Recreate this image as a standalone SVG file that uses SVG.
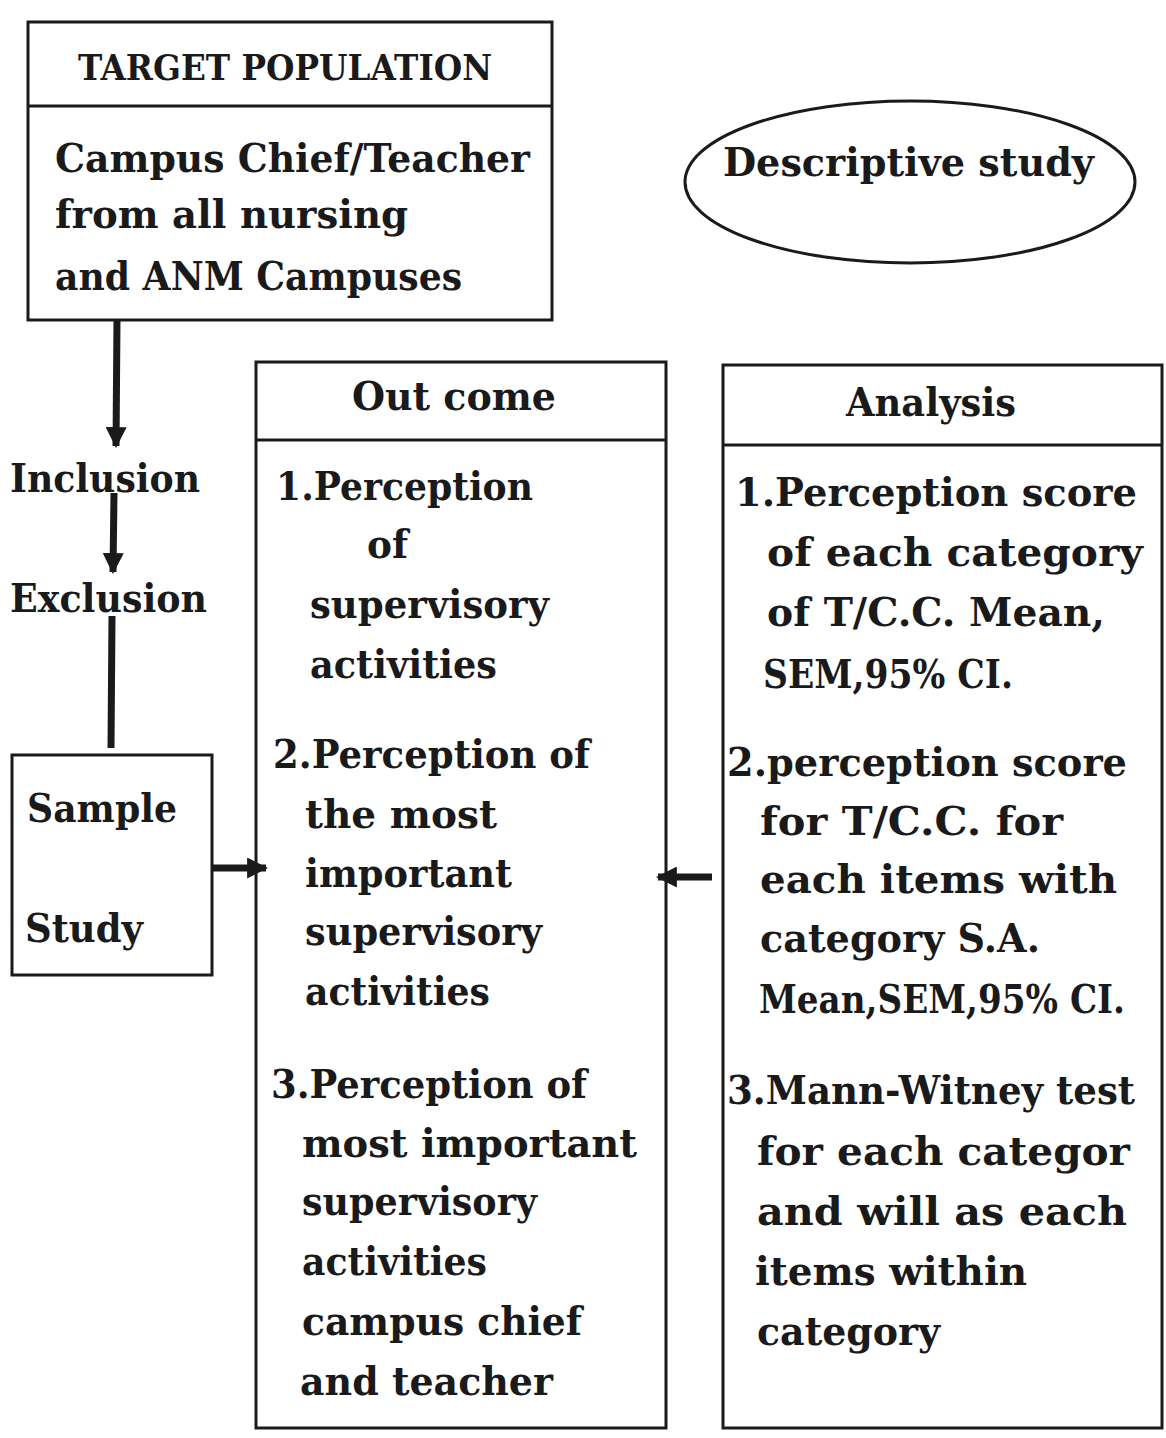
<svg xmlns="http://www.w3.org/2000/svg" width="1166" height="1438" viewBox="0 0 1166 1438">
<defs>
<style>
.box{fill:none;stroke:#1a1a1a;stroke-width:3}
.t{font-family:"DejaVu Serif","Liberation Serif",serif;font-weight:bold;font-size:40px;fill:#1a1a1a}
.h{font-size:36px}
.conn{stroke:#1a1a1a;stroke-width:7;fill:none}
</style>
<marker id="ah" viewBox="0 0 10 10" refX="9" refY="5" markerWidth="3" markerHeight="3" orient="auto" markerUnits="strokeWidth">
<path d="M0,0 L10,5 L0,10 z" fill="#1a1a1a"/>
</marker>
</defs>
<rect width="1166" height="1438" fill="#ffffff"/>

<g id="target-population">
<rect class="box" x="28" y="22" width="524" height="298"/>
<line class="box" x1="28" y1="106" x2="552" y2="106"/>
<text class="t h" x="78" y="80" textLength="414" lengthAdjust="spacingAndGlyphs">TARGET POPULATION</text>
<text class="t" x="55" y="172" textLength="475" lengthAdjust="spacingAndGlyphs">Campus Chief/Teacher</text>
<text class="t" x="55" y="228" textLength="353" lengthAdjust="spacingAndGlyphs">from all nursing</text>
<text class="t" x="55" y="290" textLength="407" lengthAdjust="spacingAndGlyphs">and ANM Campuses</text>
</g>

<g id="descriptive-study">
<ellipse class="box" cx="910" cy="182" rx="225" ry="81"/>
<text class="t" x="723" y="176" textLength="371" lengthAdjust="spacingAndGlyphs">Descriptive study</text>
</g>

<g id="inclusion">
<text class="t" x="10" y="492" textLength="190" lengthAdjust="spacingAndGlyphs">Inclusion</text>
</g>
<g id="exclusion">
<text class="t" x="10" y="612" textLength="197" lengthAdjust="spacingAndGlyphs">Exclusion</text>
</g>

<g id="sample-study">
<rect class="box" x="12" y="755" width="200" height="220"/>
<text class="t" x="27" y="822" textLength="150" lengthAdjust="spacingAndGlyphs">Sample</text>
<text class="t" x="25" y="942" textLength="118" lengthAdjust="spacingAndGlyphs">Study</text>
</g>

<g id="outcome">
<rect class="box" x="256" y="362" width="410" height="1066"/>
<line class="box" x1="256" y1="440" x2="666" y2="440"/>
<text class="t" x="352" y="410" textLength="204" lengthAdjust="spacingAndGlyphs">Out come</text>
<text class="t" x="276" y="500" textLength="257" lengthAdjust="spacingAndGlyphs">1.Perception</text>
<text class="t" x="367" y="558" textLength="41" lengthAdjust="spacingAndGlyphs">of</text>
<text class="t" x="310" y="618" textLength="239" lengthAdjust="spacingAndGlyphs">supervisory</text>
<text class="t" x="310" y="678" textLength="187" lengthAdjust="spacingAndGlyphs">activities</text>
<text class="t" x="273" y="768" textLength="317" lengthAdjust="spacingAndGlyphs">2.Perception of</text>
<text class="t" x="305" y="828" textLength="192" lengthAdjust="spacingAndGlyphs">the most</text>
<text class="t" x="305" y="887" textLength="207" lengthAdjust="spacingAndGlyphs">important</text>
<text class="t" x="305" y="945" textLength="237" lengthAdjust="spacingAndGlyphs">supervisory</text>
<text class="t" x="305" y="1005" textLength="185" lengthAdjust="spacingAndGlyphs">activities</text>
<text class="t" x="271" y="1098" textLength="316" lengthAdjust="spacingAndGlyphs">3.Perception of</text>
<text class="t" x="302" y="1157" textLength="335" lengthAdjust="spacingAndGlyphs">most important</text>
<text class="t" x="302" y="1215" textLength="235" lengthAdjust="spacingAndGlyphs">supervisory</text>
<text class="t" x="302" y="1275" textLength="185" lengthAdjust="spacingAndGlyphs">activities</text>
<text class="t" x="302" y="1335" textLength="280" lengthAdjust="spacingAndGlyphs">campus chief</text>
<text class="t" x="300" y="1395" textLength="253" lengthAdjust="spacingAndGlyphs">and teacher</text>
</g>

<g id="analysis">
<rect class="box" x="723" y="365" width="439" height="1063"/>
<line class="box" x1="723" y1="445" x2="1162" y2="445"/>
<text class="t" x="846" y="416" textLength="170" lengthAdjust="spacingAndGlyphs">Analysis</text>
<text class="t" x="735" y="506" textLength="402" lengthAdjust="spacingAndGlyphs">1.Perception score</text>
<text class="t" x="767" y="566" textLength="376" lengthAdjust="spacingAndGlyphs">of each category</text>
<text class="t" x="767" y="626" textLength="338" lengthAdjust="spacingAndGlyphs">of T/C.C. Mean,</text>
<text class="t" x="763" y="688" textLength="250" lengthAdjust="spacingAndGlyphs">SEM,95% CI.</text>
<text class="t" x="727" y="776" textLength="400" lengthAdjust="spacingAndGlyphs">2.perception score</text>
<text class="t" x="760" y="835" textLength="303" lengthAdjust="spacingAndGlyphs">for T/C.C. for</text>
<text class="t" x="760" y="893" textLength="357" lengthAdjust="spacingAndGlyphs">each items with</text>
<text class="t" x="760" y="952" textLength="280" lengthAdjust="spacingAndGlyphs">category S.A.</text>
<text class="t" x="759" y="1013" textLength="366" lengthAdjust="spacingAndGlyphs">Mean,SEM,95% CI.</text>
<text class="t" x="727" y="1104" textLength="408" lengthAdjust="spacingAndGlyphs">3.Mann-Witney test</text>
<text class="t" x="757" y="1165" textLength="373" lengthAdjust="spacingAndGlyphs">for each categor</text>
<text class="t" x="757" y="1225" textLength="370" lengthAdjust="spacingAndGlyphs">and will as each</text>
<text class="t" x="755" y="1285" textLength="272" lengthAdjust="spacingAndGlyphs">items within</text>
<text class="t" x="757" y="1345" textLength="183" lengthAdjust="spacingAndGlyphs">category</text>
</g>

<g id="connectors">
<line class="conn" x1="117" y1="320" x2="116" y2="446" marker-end="url(#ah)"/>
<line class="conn" x1="114" y1="493" x2="113" y2="572" marker-end="url(#ah)"/>
<line class="conn" x1="112" y1="616" x2="111" y2="748"/>
<line class="conn" x1="213" y1="868" x2="266" y2="868" marker-end="url(#ah)"/>
<line class="conn" x1="712" y1="877" x2="658" y2="877" marker-end="url(#ah)"/>
</g>
</svg>
